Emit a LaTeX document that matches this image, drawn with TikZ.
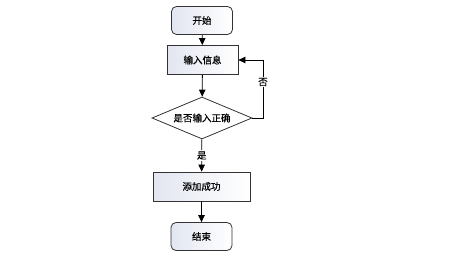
\documentclass[tikz,border=0pt]{standalone}
\usepackage{fontspec}
\newfontfamily\cjk[FakeBold=0.4]{Noto Sans CJK SC}
\usetikzlibrary{shapes.geometric,arrows.meta}
\definecolor{boxshade}{RGB}{226,230,240}
\begin{document}
\begin{tikzpicture}[x=1pt, y=-1pt,
    every node/.style={font=\cjk\fontsize{9.5}{11}\selectfont, inner sep=0pt},
    shade box/.style={draw=black!80, line width=0.8pt, left color=boxshade, right color=white},
    term/.style={shade box, rounded corners=5pt, minimum width=61pt, minimum height=28pt},
    proc/.style={shade box, minimum height=29pt},
    cond/.style={diamond, draw=black!80, line width=0.8pt, fill=white, aspect=2.38, minimum width=100pt, minimum height=42pt},
    flow/.style={line width=0.8pt, -{Triangle[length=7pt,width=6.5pt]}},
    lab/.style={fill=white, inner sep=1pt}]
  \useasboundingbox (0,0) rectangle (460,259);
  \node[term] (start) at (202,20.5) {开始};
  \node[proc, minimum width=71pt] (input) at (202.5,60) {输入信息};
  \node[cond] (check) at (202,118) {是否输入正确};
  \node[proc, minimum width=97pt] (add) at (201.5,186.5) {添加成功};
  \node[term] (stop) at (201.5,236.5) {结束};
  \coordinate (back) at (263,118);
  \draw[flow] (start) -- (input);
  \draw[flow] (input) -- (check);
  \draw[flow] (check) -- node[lab] {是} (add);
  \draw[flow] (check.east) -- (back) |- node[lab, pos=0.31] {否} (input.east);
  \draw[flow] (add) -- (stop);
\end{tikzpicture}
\end{document}
